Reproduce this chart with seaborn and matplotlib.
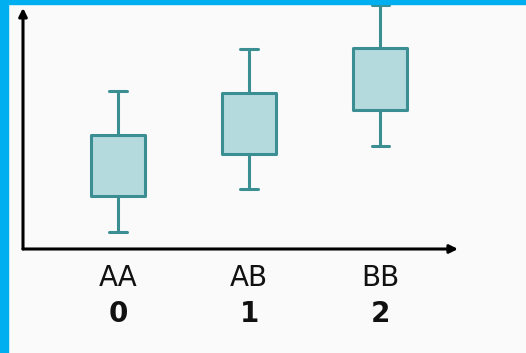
import pandas as pd
import matplotlib.pyplot as plt
import seaborn as sns

# Box summary per genotype
GENOTYPES = ["AA", "AB", "BB"]
CODES = ["0", "1", "2"]
WHISKER_LOW = [1.7, 6.0, 10.3]
Q1 = [5.3, 9.5, 13.9]
MEDIAN = [8.3, 12.5, 17.0]
Q3 = [11.4, 15.6, 20.1]
WHISKER_HIGH = [15.8, 20.0, 24.4]

FACE = "#B4DADE"
EDGE = "#3B8F93"
BG = "#FAFAFA"
BORDER = "#00AFEF"

rows = []
for i, g in enumerate(GENOTYPES):
    for v in (WHISKER_LOW[i], Q1[i], MEDIAN[i], Q3[i], WHISKER_HIGH[i]):
        rows.append({"genotype": g, "value": v})
df = pd.DataFrame(rows)

sns.set_style("white")
plt.rcParams["font.family"] = ["DejaVu Sans"]

fig = plt.figure(figsize=(5.26, 3.53), dpi=100, facecolor=BG)
# blue frame at left and top
fig.patches.append(plt.Rectangle((0, 0), 8 / 526, 1, transform=fig.transFigure,
                                 color=BORDER, zorder=0))
fig.patches.append(plt.Rectangle((0, 1 - 4 / 353), 1, 4 / 353, transform=fig.transFigure,
                                 color=BORDER, zorder=0))

ax = fig.add_axes([23 / 526, 104 / 353, 435 / 526, 244 / 353])
ax.set_facecolor("none")

sns.boxplot(data=df, x="genotype", y="value", order=GENOTYPES, ax=ax,
            width=0.41, color=FACE, linecolor=EDGE, linewidth=2.2,
            saturation=1, whis=10, showfliers=False,
            medianprops={"visible": False}, capwidths=0.13,
            boxprops={"joinstyle": "round"})

ax.set_xlim(-0.725, 2.595)
ax.set_ylim(0, 24.4)
for s in ax.spines.values():
    s.set_visible(False)
ax.set_yticks([])
ax.set_xticks([])
ax.set_xlabel("")
ax.set_ylabel("")

# axis arrows
arrow = dict(arrowstyle="-|>", color="black", lw=2.2, mutation_scale=12,
             shrinkA=0, shrinkB=0)
ax.annotate("", xy=(1.0, 0), xytext=(0, 0), xycoords="axes fraction",
            arrowprops=arrow, annotation_clip=False)
ax.annotate("", xy=(0, 0.988), xytext=(0, 0), xycoords="axes fraction",
            arrowprops=arrow, annotation_clip=False)

# two-line category labels
trans = ax.get_xaxis_transform()
for i, (g, c) in enumerate(zip(GENOTYPES, CODES)):
    ax.text(i, -0.118, g, transform=trans, ha="center", va="center",
            fontsize=20, color="#111111", clip_on=False)
    ax.text(i, -0.268, c, transform=trans, ha="center", va="center",
            fontsize=20, fontweight="bold", color="#111111", clip_on=False)

fig.savefig("out.png", dpi=100, facecolor=BG)
